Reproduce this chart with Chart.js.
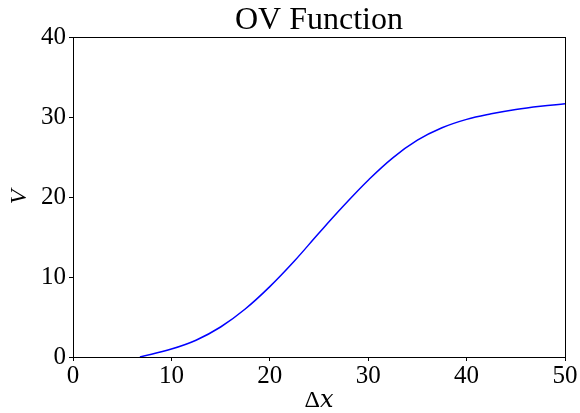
<!DOCTYPE html>
<html>
<head>
<meta charset="utf-8">
<script src="https://cdn.jsdelivr.net/npm/chart.js@4"></script>
<style>
  body { margin: 0; background: #fff; }
  #wrap { width: 580px; height: 413px; }
</style>
</head>
<body>
<div id="wrap"><canvas id="ovChart" width="580" height="413"></canvas></div>
<script>
// values
const gaps = [6.8, 10, 12.5, 15, 17.5, 20, 22.5, 25, 27.5, 30, 32.5, 35, 37.5, 40, 42.5, 45, 47.5, 50];
const speeds = [0, 1.0, 2.1, 3.75, 6.0, 8.8, 12.0, 15.5, 18.9, 22.1, 24.9, 27.1, 28.65, 29.7, 30.4, 30.95, 31.35, 31.65];
const xTicks = [0, 10, 20, 30, 40, 50];
const yTicks = [0, 10, 20, 30, 40];
const chartTitle = 'OV Function';

const serif = "'Liberation Serif', 'Times New Roman', 'DejaVu Serif', serif";

// full box around the plot + title centred over the plot area (matplotlib style)
const framePlugin = {
    id: 'frame',
    afterDraw(chart) {
        const a = chart.chartArea;
        const ctx = chart.ctx;
        ctx.save();
        ctx.strokeStyle = '#000';
        ctx.lineWidth = 1;
        ctx.strokeRect(Math.round(a.left) + 0.5, Math.round(a.top) + 0.5,
            Math.round(a.right - a.left), Math.round(a.bottom - a.top));
        ctx.fillStyle = '#000';
        ctx.font = '32px ' + serif;
        ctx.textAlign = 'center';
        ctx.textBaseline = 'alphabetic';
        ctx.fillText(chartTitle, (a.left + a.right) / 2, 29);
        ctx.restore();
    }
};

new Chart(document.getElementById('ovChart'), {
    type: 'line',
    data: {
        datasets: [{
            label: 'V',
            data: gaps.map((g, i) => ({ x: g, y: speeds[i] })),
            borderColor: '#0000ff',
            borderWidth: 1.5,
            pointRadius: 0,
            fill: false,
            tension: 0.4
        }]
    },
    options: {
        responsive: false,
        animation: false,
        layout: { padding: { left: 0, right: 15, top: 37, bottom: 0 } },
        plugins: {
            legend: { display: false },
            tooltip: { enabled: false },
            title: { display: false }
        },
        scales: {
            x: {
                type: 'linear',
                min: 0,
                max: 50,
                afterBuildTicks: s => { s.ticks = xTicks.map(v => ({ value: v })); },
                afterFit: s => { s.height = 56; },
                grid: { drawOnChartArea: false, tickLength: 4, tickColor: '#000', color: '#000' },
                border: { color: '#000' },
                ticks: { color: '#000', padding: 0, font: { family: serif, size: 25 } },
                title: {
                    display: true,
                    text: 'Δ𝑥',
                    color: '#000',
                    padding: 0,
                    font: { family: serif, size: 24, lineHeight: 1 }
                }
            },
            y: {
                type: 'linear',
                min: 0,
                max: 40,
                afterBuildTicks: s => { s.ticks = yTicks.map(v => ({ value: v })); },
                afterFit: s => { s.width = 73; },
                grid: { drawOnChartArea: false, tickLength: 4, tickColor: '#000', color: '#000' },
                border: { color: '#000' },
                ticks: { color: '#000', padding: 3, font: { family: serif, size: 25 } },
                title: {
                    display: true,
                    text: 'V',
                    color: '#000',
                    padding: { top: 5, bottom: 0 },
                    font: { family: serif, size: 24, style: 'italic' }
                }
            }
        }
    },
    plugins: [framePlugin]
});
</script>
</body>
</html>
